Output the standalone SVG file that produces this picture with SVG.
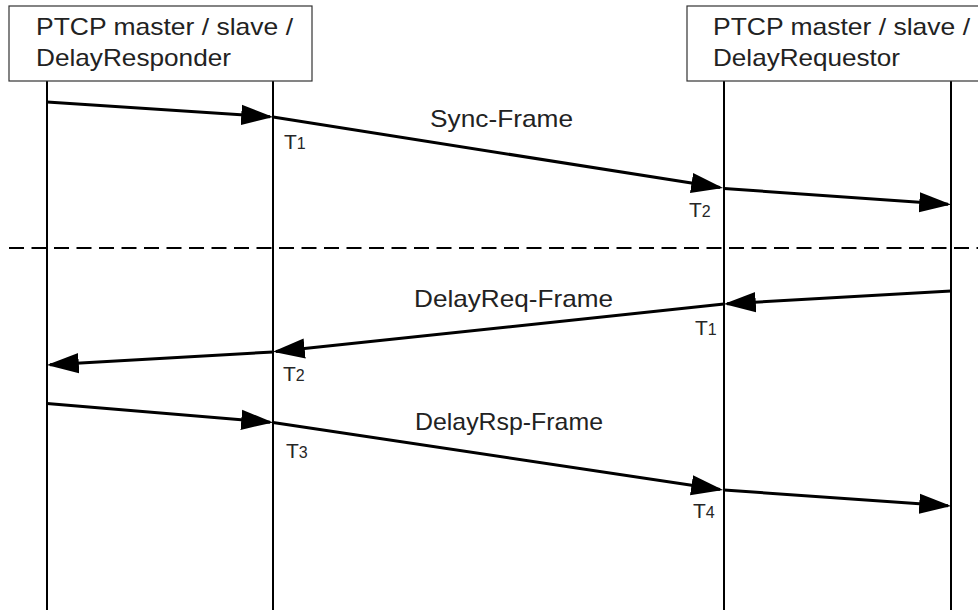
<svg xmlns="http://www.w3.org/2000/svg" width="978" height="610" viewBox="0 0 978 610">
  <style>
    .box { fill: #ffffff; stroke: #333333; stroke-width: 1.2; }
    .life { stroke: #000000; stroke-width: 2; fill: none; }
    .msg { stroke: #000000; stroke-width: 3; fill: none; marker-end: url(#head); }
    .sep { stroke: #000000; stroke-width: 2; stroke-dasharray: 15 7.5; fill: none; }
    .lbl { font-family: "Liberation Sans", Arial, sans-serif; font-size: 24px; fill: #222222; }
    .ts { font-family: "Liberation Sans", Arial, sans-serif; font-size: 21px; fill: #262626; }
    .sub { font-size: 16px; }
  </style>
  <defs>
    <marker id="head" markerUnits="userSpaceOnUse" markerWidth="32" markerHeight="21" viewBox="0 0 30 19" refX="27" refY="9.5" orient="auto">
      <path d="M0,0 L30,9.5 L0,19 Z" fill="#000000"/>
    </marker>
  </defs>

  <rect width="978" height="610" fill="#ffffff"/>

  <!-- lifelines -->
  <g id="lifelines">
    <line class="life" x1="47" y1="81" x2="47" y2="610"/>
    <line class="life" x1="273" y1="81" x2="273" y2="610"/>
    <line class="life" x1="724" y1="81" x2="724" y2="610"/>
    <line class="life" x1="951" y1="81" x2="951" y2="610"/>
  </g>

  <!-- participant: responder side -->
  <g id="responder">
    <rect class="box" x="9" y="6" width="303" height="75"/>
    <text class="lbl" x="36" y="35" textLength="257" lengthAdjust="spacingAndGlyphs">PTCP master / slave /</text>
    <text class="lbl" x="36" y="66" textLength="195" lengthAdjust="spacingAndGlyphs">DelayResponder</text>
  </g>

  <!-- participant: requestor side -->
  <g id="requestor">
    <rect class="box" x="687" y="6" width="300" height="75"/>
    <text class="lbl" x="713" y="35" textLength="257" lengthAdjust="spacingAndGlyphs">PTCP master / slave /</text>
    <text class="lbl" x="713" y="66" textLength="187" lengthAdjust="spacingAndGlyphs">DelayRequestor</text>
  </g>

  <!-- phase separator -->
  <line class="sep" x1="9" y1="248" x2="978" y2="248"/>

  <!-- messages -->
  <g id="connectors">
    <!-- Sync-Frame -->
    <line class="msg" x1="47" y1="102" x2="270" y2="116.8"/>
    <line class="msg" x1="273" y1="117" x2="720" y2="187.6"/>
    <line class="msg" x1="724" y1="188.5" x2="948" y2="204.3"/>
    <!-- DelayReq-Frame -->
    <line class="msg" x1="951" y1="291" x2="727" y2="303.8"/>
    <line class="msg" x1="724" y1="304" x2="276" y2="351.5"/>
    <line class="msg" x1="273" y1="352" x2="50" y2="364.8"/>
    <!-- DelayRsp-Frame -->
    <line class="msg" x1="47" y1="403.5" x2="270" y2="422.2"/>
    <line class="msg" x1="273" y1="422.5" x2="720" y2="489.5"/>
    <line class="msg" x1="724" y1="490" x2="948" y2="505.8"/>
  </g>

  <!-- message labels -->
  <g id="labels">
    <text class="lbl" x="430" y="127" textLength="143" lengthAdjust="spacingAndGlyphs">Sync-Frame</text>
    <text class="lbl" x="414" y="306.5" textLength="199" lengthAdjust="spacingAndGlyphs">DelayReq-Frame</text>
    <text class="lbl" x="415" y="430" textLength="188" lengthAdjust="spacingAndGlyphs">DelayRsp-Frame</text>
  </g>

  <!-- timestamps -->
  <g id="timestamps">
    <text class="ts" x="284" y="149">T<tspan class="sub">1</tspan></text>
    <text class="ts" x="689" y="217">T<tspan class="sub">2</tspan></text>
    <text class="ts" x="695" y="335">T<tspan class="sub">1</tspan></text>
    <text class="ts" x="283" y="381">T<tspan class="sub">2</tspan></text>
    <text class="ts" x="286" y="458">T<tspan class="sub">3</tspan></text>
    <text class="ts" x="693" y="518">T<tspan class="sub">4</tspan></text>
  </g>
</svg>
